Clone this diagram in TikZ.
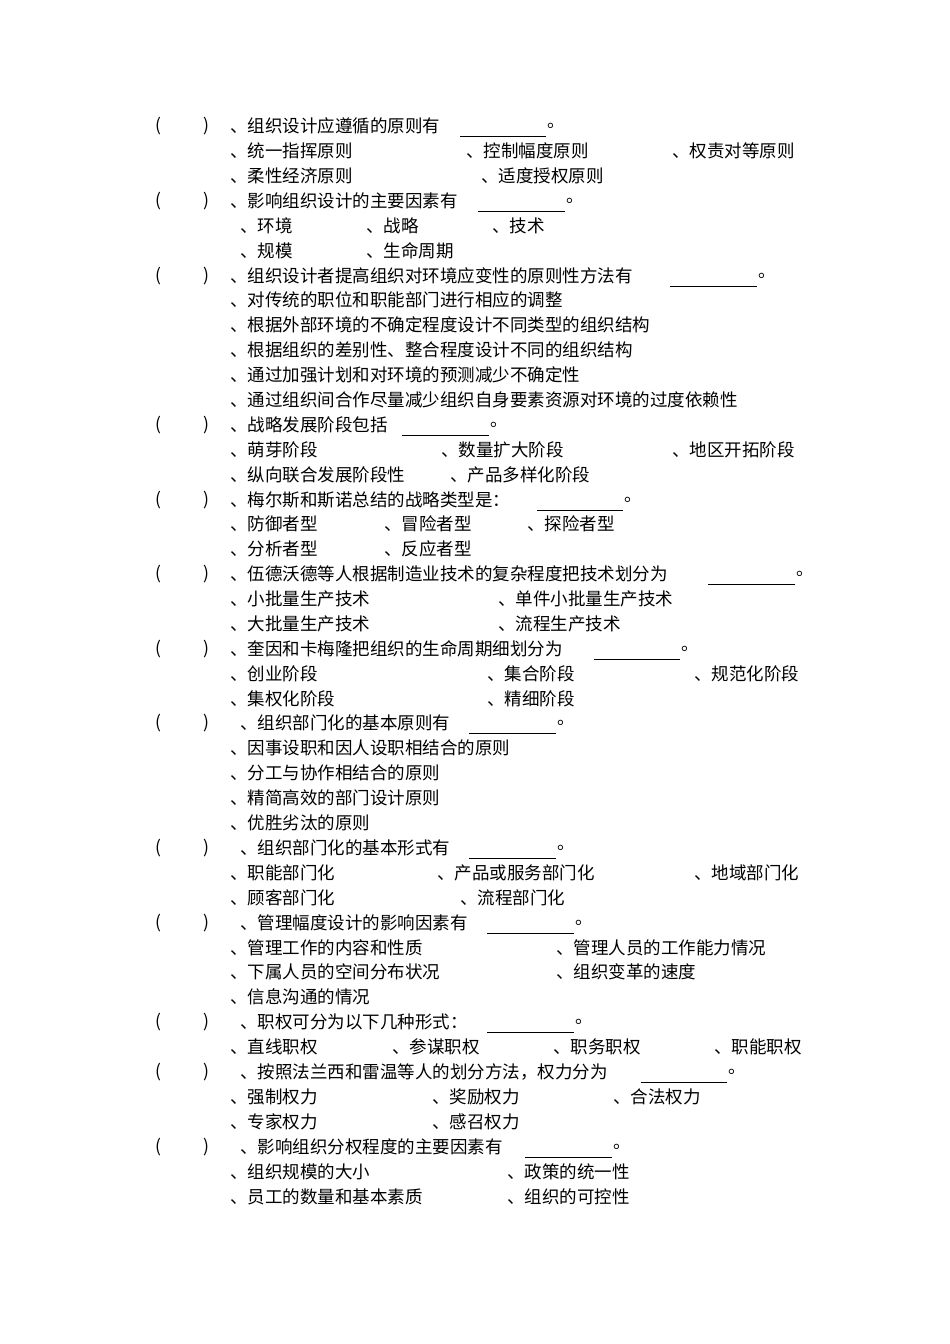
\documentclass[tikz,border=0pt]{standalone}
\usepackage{fontspec}
\setmainfont{Noto Sans CJK SC}
\begin{document}
\begin{tikzpicture}[x=1pt,y=-1pt,
  txt/.style={anchor=west,inner sep=0pt,font=\fontsize{17.5}{20}\selectfont},
  blank/.style={line width=0.8pt}]
\useasboundingbox[fill=white] (0,0) rectangle (950,1344);
% question: name, y, x, text, blank start, blank end
\newcommand\Q[6]{%
  \node[txt] (#1l) at (155,#2) {(};
  \node[txt] (#1r) at (203,#2) {)};
  \node[txt] (#1) at (#3,#2) {#4};
  \coordinate (#1a) at (#5,#2+10);
  \coordinate (#1b) at (#6,#2+10);
  \draw[blank] (#1a) -- (#1b);
  \node[txt] (#1e) at (#6+1,#2) {。};}
\newcommand\T[4]{\node[txt] (#1) at (#3,#2) {#4};}
\Q{q1}{126}{230}{、组织设计应遵循的原则有}{460}{546}
\T{a11}{151}{230}{、统一指挥原则}\T{a12}{151}{466}{、控制幅度原则}\T{a13}{151}{672}{、权责对等原则}
\T{a14}{176}{230}{、柔性经济原则}\T{a15}{176}{481}{、适度授权原则}
\Q{q2}{201}{230}{、影响组织设计的主要因素有}{478}{565}
\T{a21}{226}{240}{、环境}\T{a22}{226}{366}{、战略}\T{a23}{226}{492}{、技术}
\T{a24}{251}{240}{、规模}\T{a25}{251}{366}{、生命周期}
\Q{q3}{276}{230}{、组织设计者提高组织对环境应变性的原则性方法有}{670}{757}
\T{a31}{300}{230}{、对传统的职位和职能部门进行相应的调整}
\T{a32}{325}{230}{、根据外部环境的不确定程度设计不同类型的组织结构}
\T{a33}{350}{230}{、根据组织的差别性、整合程度设计不同的组织结构}
\T{a34}{375}{230}{、通过加强计划和对环境的预测减少不确定性}
\T{a35}{400}{230}{、通过组织间合作尽量减少组织自身要素资源对环境的过度依赖性}
\Q{q4}{425}{230}{、战略发展阶段包括}{402}{489}
\T{a41}{450}{230}{、萌芽阶段}\T{a42}{450}{441}{、数量扩大阶段}\T{a43}{450}{672}{、地区开拓阶段}
\T{a44}{475}{230}{、纵向联合发展阶段性}\T{a45}{475}{450}{、产品多样化阶段}
\Q{q5}{500}{230}{、梅尔斯和斯诺总结的战略类型是：}{537}{623}
\T{a51}{524}{230}{、防御者型}\T{a52}{524}{384}{、冒险者型}\T{a53}{524}{527}{、探险者型}
\T{a54}{549}{230}{、分析者型}\T{a55}{549}{384}{、反应者型}
\Q{q6}{574}{230}{、伍德沃德等人根据制造业技术的复杂程度把技术划分为}{708}{795}
\T{a61}{599}{230}{、小批量生产技术}\T{a62}{599}{498}{、单件小批量生产技术}
\T{a63}{624}{230}{、大批量生产技术}\T{a64}{624}{498}{、流程生产技术}
\Q{q7}{649}{230}{、奎因和卡梅隆把组织的生命周期细划分为}{594}{680}
\T{a71}{674}{230}{、创业阶段}\T{a72}{674}{487}{、集合阶段}\T{a73}{674}{694}{、规范化阶段}
\T{a74}{699}{230}{、集权化阶段}\T{a75}{699}{487}{、精细阶段}
\Q{q8}{723}{240}{、组织部门化的基本原则有}{469}{556}
\T{a81}{748}{230}{、因事设职和因人设职相结合的原则}
\T{a82}{773}{230}{、分工与协作相结合的原则}
\T{a83}{798}{230}{、精简高效的部门设计原则}
\T{a84}{823}{230}{、优胜劣汰的原则}
\Q{q9}{848}{240}{、组织部门化的基本形式有}{469}{556}
\T{a91}{873}{230}{、职能部门化}\T{a92}{873}{437}{、产品或服务部门化}\T{a93}{873}{694}{、地域部门化}
\T{a94}{898}{230}{、顾客部门化}\T{a95}{898}{460}{、流程部门化}
\Q{q10}{923}{240}{、管理幅度设计的影响因素有}{487}{574}
\T{b11}{948}{230}{、管理工作的内容和性质}\T{b12}{948}{556}{、管理人员的工作能力情况}
\T{b13}{972}{230}{、下属人员的空间分布状况}\T{b14}{972}{556}{、组织变革的速度}
\T{b15}{997}{230}{、信息沟通的情况}
\Q{q11}{1022}{240}{、职权可分为以下几种形式：}{487}{574}
\T{c11}{1047}{230}{、直线职权}\T{c12}{1047}{392}{、参谋职权}\T{c13}{1047}{553}{、职务职权}\T{c14}{1047}{714}{、职能职权}
\Q{q12}{1072}{240}{、按照法兰西和雷温等人的划分方法，权力分为}{641}{727}
\T{d11}{1097}{230}{、强制权力}\T{d12}{1097}{432}{、奖励权力}\T{d13}{1097}{613}{、合法权力}
\T{d14}{1122}{230}{、专家权力}\T{d15}{1122}{432}{、感召权力}
\Q{q13}{1147}{240}{、影响组织分权程度的主要因素有}{525}{612}
\T{e11}{1172}{230}{、组织规模的大小}\T{e12}{1172}{507}{、政策的统一性}
\T{e13}{1197}{230}{、员工的数量和基本素质}\T{e14}{1197}{507}{、组织的可控性}
\end{tikzpicture}
\end{document}
